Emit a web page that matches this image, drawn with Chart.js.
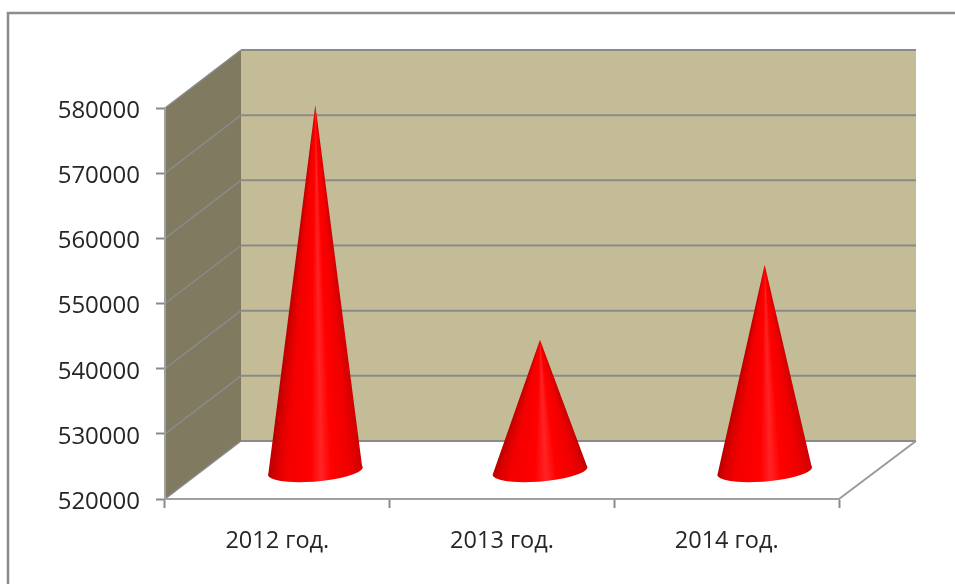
<!DOCTYPE html>
<html>
<head>
<meta charset="utf-8">
<style>
  html, body { margin: 0; padding: 0; background: #fff; overflow: hidden; }
  #wrap { width: 955px; height: 584px; }
</style>
<script src="https://cdn.jsdelivr.net/npm/chart.js@4/dist/chart.umd.min.js"></script>
</head>
<body>
<div id="wrap"><canvas id="chart" width="955" height="584"></canvas></div>
<script>
const categories = ["2012 год.", "2013 год.", "2014 год."];
const coneValues = [576000, 540000, 551500];
const axisMin = 520000;
const axisMax = 580000;
const axisStep = 10000;

// 3D look: how far the back wall sits from the front plane
const DEPTH_X = 76;
const DEPTH_Y = 58;
const GRID_COLOR = "#8a8a8a";
const FONT = "'Open Sans', sans-serif";

function line(ctx, x1, y1, x2, y2, color, width) {
  ctx.strokeStyle = color;
  ctx.lineWidth = width;
  ctx.beginPath();
  ctx.moveTo(x1, y1);
  ctx.lineTo(x2, y2);
  ctx.stroke();
}

const wallsPlugin = {
  id: "walls",
  beforeDraw(chart) {
    const { ctx, chartArea: a, scales } = chart;
    const backRight = a.right + DEPTH_X + 1;
    ctx.save();

    // outer frame, runs off the right and bottom of the picture
    ctx.strokeStyle = "#8c8c8c";
    ctx.lineWidth = 2.5;
    ctx.strokeRect(8, 13, 1100, 800);

    // back wall
    ctx.fillStyle = "#c4bc96";
    ctx.fillRect(a.left + DEPTH_X, a.top - DEPTH_Y, backRight - a.left - DEPTH_X, a.height);

    // side wall
    ctx.fillStyle = "#7f7a60";
    ctx.beginPath();
    ctx.moveTo(a.left, a.top);
    ctx.lineTo(a.left + DEPTH_X, a.top - DEPTH_Y);
    ctx.lineTo(a.left + DEPTH_X, a.bottom - DEPTH_Y);
    ctx.lineTo(a.left, a.bottom);
    ctx.closePath();
    ctx.fill();

    // gridlines wrap round both walls
    scales.y.ticks.forEach((tick) => {
      const y = scales.y.getPixelForValue(tick.value);
      line(ctx, a.left, y, a.left + DEPTH_X, y - DEPTH_Y, GRID_COLOR, 1.5);
      line(ctx, a.left + DEPTH_X, y - DEPTH_Y, backRight, y - DEPTH_Y, GRID_COLOR, 2);
    });

    // floor edge on the right
    line(ctx, a.right, a.bottom, backRight, a.bottom - DEPTH_Y, "#9a9a9a", 2);
    ctx.restore();
  },
};

const conesPlugin = {
  id: "cones",
  afterDatasetsDraw(chart) {
    const { ctx, scales } = chart;
    const baseY = scales.y.getPixelForValue(axisMin) - DEPTH_Y / 2 + 1;
    const tilt = -0.084;
    // shading across the cone, 0 = left edge, 1 = right edge
    const shades = [
      [0, "#b40000"], [0.08, "#d60000"], [0.2, "#f40000"], [0.45, "#ff0000"],
      [0.56, "#ff2424"], [0.67, "#ff0000"], [0.86, "#f00000"], [1, "#d00000"],
    ];
    chart.getDatasetMeta(0).data.forEach((bar) => {
      const cx = bar.x + DEPTH_X / 2;
      const tipY = bar.y - DEPTH_Y / 2;
      const rx = bar.width / 2;
      const h = baseY - tipY;
      const startAngle = Math.atan2(h, rx);
      const grad = ctx.createConicGradient(startAngle, cx, tipY);
      shades.slice().reverse().forEach(([t, color]) => {
        const angle = Math.atan2(h, (2 * t - 1) * rx);
        grad.addColorStop((angle - startAngle) / (2 * Math.PI), color);
      });
      ctx.save();
      ctx.fillStyle = grad;
      ctx.beginPath();
      ctx.ellipse(cx, baseY, rx, 10.5, tilt, -0.15, Math.PI + 0.15);
      ctx.lineTo(cx, tipY);
      ctx.closePath();
      ctx.fill();
      ctx.restore();
    });
  },
};

new Chart(document.getElementById("chart"), {
  type: "bar",
  data: {
    labels: categories,
    datasets: [{
      data: coneValues,
      backgroundColor: "rgba(0,0,0,0)",
      borderWidth: 0,
      barPercentage: 0.423,
      categoryPercentage: 1,
    }],
  },
  options: {
    responsive: false,
    animation: false,
    layout: { padding: { left: 0, top: 108, right: 116, bottom: 25 } },
    plugins: { legend: { display: false }, tooltip: { enabled: false } },
    scales: {
      x: {
        afterFit: (scale) => { scale.height = 60; },
        grid: { drawOnChartArea: false, tickLength: 9, tickColor: GRID_COLOR, tickWidth: 2 },
        border: { color: "#a0a0a0", width: 2 },
        ticks: { color: "#262626", font: { family: FONT, size: 23.5 }, padding: 19, maxRotation: 0 },
      },
      y: {
        min: axisMin,
        max: axisMax,
        afterFit: (scale) => { scale.width = 165; },
        grid: { drawOnChartArea: false, tickLength: 9, tickColor: GRID_COLOR, tickWidth: 2 },
        border: { color: "#a0a0a0", width: 2 },
        ticks: {
          stepSize: axisStep,
          color: "#262626",
          font: { family: FONT, size: 24 },
          padding: 16,
          labelOffset: 3,
          callback: (value) => String(value),
        },
      },
    },
  },
  plugins: [wallsPlugin, conesPlugin],
});
</script>
</body>
</html>
